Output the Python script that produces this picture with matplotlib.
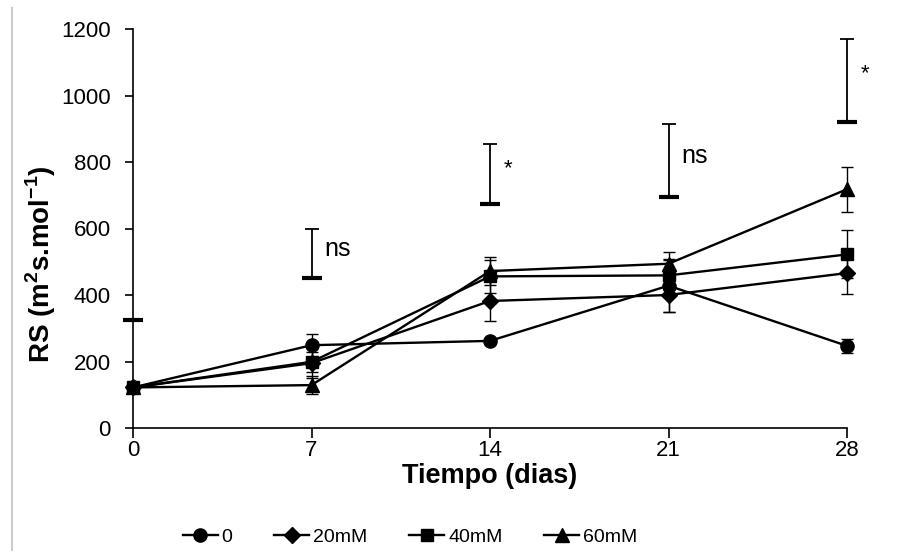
import matplotlib
matplotlib.use("Agg")
import matplotlib.pyplot as plt
from matplotlib.lines import Line2D
import numpy as np

plt.rcParams['font.family'] = ['Liberation Sans', 'DejaVu Sans']
plt.rcParams['mathtext.fontset'] = 'custom'
plt.rcParams['mathtext.rm'] = 'Liberation Sans'
plt.rcParams['mathtext.bf'] = 'Liberation Sans:bold'

days = [0, 7, 14, 21, 28]
labels = ['0', '20mM', '40mM', '60mM']
markers = ['o', 'D', 's', '^']

s0 = [122, 249, 262, 428, 247]
s0_err = [0, 35, 0, 80, 22]
s20 = [122, 195, 382, 400, 466]
s20_err = [0, 45, 60, 50, 64]
s40 = [122, 199, 456, 459, 522]
s40_err = [0, 30, 50, 45, 72]
s60 = [122, 129, 472, 494, 718]
s60_err = [0, 27, 42, 35, 68]

series = [s0, s20, s40, s60]
errors = [s0_err, s20_err, s40_err, s60_err]

# LSD bars: base value and height (upward)
lsd_base = [325, 450, 674, 696, 920]
lsd_height = [0, 148, 180, 217, 250]
lsd_labels = ['', 'ns', '*', 'ns', '*']

fig = plt.figure(figsize=(9.12, 5.51), dpi=100)
ax = fig.add_axes([133 / 912, 1 - 428 / 551, (847 - 133) / 912, (428 - 29) / 551])

msizes = [9.5, 8, 8.5, 9.5]
for vals, err, m, lab, ms in zip(series, errors, markers, labels, msizes):
    ax.errorbar(days, vals, yerr=err, color='black', ecolor='black', elinewidth=1.0,
                capsize=4.5, capthick=1.0, lw=1.7, marker=m, markersize=ms,
                label=lab, clip_on=False, zorder=3)

# LSD bars
for d, b, h, t in zip(days, lsd_base, lsd_height, lsd_labels):
    if h > 0:
        ax.errorbar([d], [b], yerr=[[0], [h]], fmt='none', ecolor='black',
                    elinewidth=1.3, capsize=5, capthick=1.3, clip_on=False, zorder=2)
    ax.plot([d], [b], marker='_', markersize=14, markeredgewidth=3, color='black',
            clip_on=False, zorder=2)
    if t == 'ns':
        ax.text(d + 0.5, b + h * 0.5 + 15, t, fontsize=18, ha='left', va='center')
    elif t == '*':
        ax.text(d + 0.72, b + h * 0.58, t, fontsize=16, ha='center', va='center')

ax.set_xlim(0, 28)
ax.set_ylim(0, 1200)
ax.set_xticks(days)
ax.set_yticks(np.arange(0, 1201, 200))
for sp in ['top', 'right']:
    ax.spines[sp].set_visible(False)
for sp in ['left', 'bottom']:
    ax.spines[sp].set_linewidth(1.2)
ax.tick_params(axis='both', labelsize=16, width=1.2, direction='out')
ax.tick_params(axis='y', length=6, pad=10)
ax.tick_params(axis='x', length=7, pad=2)

ax.set_xlabel('Tiempo (dias)', fontsize=19.5, fontweight='bold')
ax.xaxis.set_label_coords(0.5, -0.087)
ax.set_ylabel(r'RS (m$^{\mathbf{2}}$s.mol$^{\mathbf{-1}}$)', fontsize=20,
              fontweight='bold')
ax.yaxis.set_label_coords(-0.105, 0.41)

handles = [Line2D([0], [0], color='black', lw=1.7, marker=m, markersize=ms)
           for m, ms in zip(markers, msizes)]
fig.legend(handles, labels, loc='center', bbox_to_anchor=(410 / 912, 1 - 537 / 551),
           ncol=4, frameon=False, fontsize=14, handlelength=1.8, handletextpad=0.2,
           columnspacing=2.15)

fig.add_artist(Line2D([12 / 912, 12 / 912], [0, 1 - 8 / 551], color='#cccccc', lw=1.5))

fig.savefig('out.png', dpi=100)
